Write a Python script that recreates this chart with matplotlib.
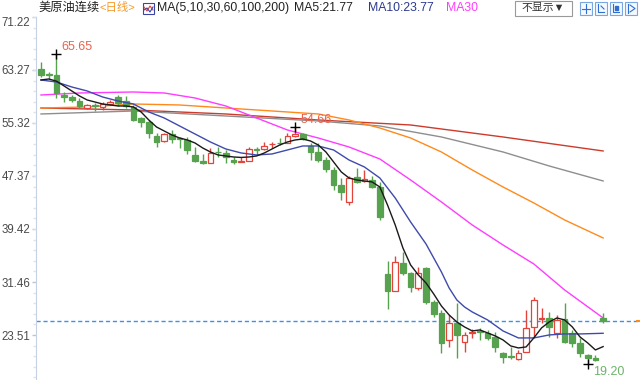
import matplotlib
matplotlib.use('Agg')
import matplotlib.pyplot as plt
from matplotlib.patches import Rectangle
from matplotlib.lines import Line2D
import numpy as np

plt.rcParams['font.family'] = ['Liberation Sans', 'Noto Sans CJK SC', 'DejaVu Sans']

# ---------------- data ----------------
opens = [63.42, 62.55, 62.52, 59.52, 59.22, 58.62, 57.57, 57.90, 57.72, 58.17,
         59.22, 58.62, 57.72, 56.07, 55.47, 53.37, 52.62, 53.67, 52.95, 52.77,
         50.52, 49.62, 49.32, 50.97, 50.82, 49.77, 49.47, 49.62, 51.30, 51.42,
         52.12, 52.32, 52.32, 53.37, 53.67, 51.87, 50.97, 49.77, 48.27, 46.02,
         43.47, 47.22, 46.62, 46.77, 45.72, 32.67, 30.12, 34.32, 32.82, 30.57,
         33.57, 28.47, 26.82, 22.77, 25.32, 22.47, 23.82, 24.00, 23.82, 23.22,
         20.82, 20.25, 19.92, 20.97, 24.72, 25.90, 26.07, 23.82, 25.92, 23.82,
         22.32, 20.52, 20.07, 26.07]
highs = [64.47, 62.97, 65.65, 59.97, 59.52, 59.07, 58.17, 58.32, 58.47, 58.77,
         59.52, 59.37, 58.02, 56.22, 55.77, 53.77, 53.82, 54.27, 53.22, 53.22,
         51.72, 50.67, 51.57, 51.72, 51.27, 50.27, 50.22, 51.77, 51.77, 52.52,
         52.52, 53.00, 53.77, 54.66, 53.77, 52.27, 52.32, 50.22, 48.77, 47.07,
         47.37, 48.57, 48.27, 47.37, 46.47, 34.62, 35.37, 35.97, 32.97, 33.72,
         33.72, 28.80, 27.27, 26.52, 28.32, 23.97, 24.42, 24.57, 24.27, 23.97,
         20.97, 21.72, 21.27, 27.27, 29.22, 27.57, 26.97, 26.52, 28.32, 24.27,
         23.07, 20.67, 20.52, 26.82]
lows = [62.22, 61.92, 59.07, 58.47, 58.47, 57.57, 57.42, 57.12, 57.27, 58.02,
        57.87, 57.57, 55.62, 54.72, 53.07, 51.72, 52.47, 52.32, 51.57, 50.67,
        49.47, 49.22, 49.32, 50.22, 49.32, 49.17, 49.47, 49.62, 50.52, 51.27,
        51.52, 51.97, 52.27, 53.22, 52.77, 49.77, 49.47, 47.97, 45.27, 43.77,
        43.07, 46.32, 46.47, 45.57, 40.77, 27.42, 30.12, 32.52, 29.97, 30.27,
        28.17, 26.20, 20.82, 21.72, 20.07, 20.97, 23.07, 22.77, 22.77, 20.97,
        19.32, 19.92, 19.77, 20.97, 23.22, 25.32, 23.22, 23.07, 22.32, 21.72,
        20.22, 19.20, 19.62, 25.32]
closes = [62.52, 62.50, 59.82, 59.22, 58.77, 57.87, 58.02, 57.85, 58.17, 58.47,
          58.32, 57.87, 55.77, 55.47, 53.82, 52.47, 53.67, 52.92, 52.90, 51.27,
          49.62, 49.32, 50.82, 50.90, 50.22, 49.47, 49.62, 51.42, 51.25, 51.87,
          52.17, 52.27, 53.37, 53.67, 52.92, 50.97, 49.77, 48.42, 46.02, 44.97,
          47.07, 46.47, 46.92, 45.72, 41.22, 30.12, 34.47, 32.82, 30.72, 32.82,
          28.47, 26.67, 22.32, 25.32, 23.52, 23.52, 23.97, 23.95, 23.07, 21.72,
          20.22, 20.20, 20.82, 24.57, 28.77, 25.97, 24.72, 25.77, 22.47, 22.32,
          20.82, 20.07, 19.77, 25.62]

ma5_values = [61.77, 61.92, 61.60, 60.87, 60.12, 59.37, 58.77, 58.47, 58.17, 58.02,
              57.87, 57.87, 57.72, 56.97, 55.77, 54.72, 54.12, 53.52, 53.07, 52.77,
              52.32, 51.57, 50.97, 50.52, 50.37, 50.22, 50.15, 50.22, 50.37, 50.82,
              51.42, 52.02, 52.47, 52.77, 52.92, 52.62, 52.02, 50.97, 49.47, 47.97,
              47.07, 46.77, 46.62, 46.47, 45.72, 43.02, 40.02, 36.57, 34.02, 32.52,
              31.32, 29.67, 27.87, 26.52, 25.47, 24.72, 24.12, 24.27, 23.82, 23.37,
              22.77, 21.87, 21.57, 21.72, 23.07, 24.57, 25.47, 26.07, 25.77, 24.72,
              23.22, 22.32, 21.27, 21.77]

ma10_index = [0, 2, 4, 6, 8, 10, 12, 14, 16, 18, 20, 22, 24, 26, 28, 30, 32, 34, 36, 38,
              40, 42, 44, 45, 46, 47, 48, 49, 50, 51, 52, 53, 54, 55, 56, 57, 58, 60,
              62, 64, 66, 68, 70, 73]
ma10_values = [61.77, 61.47, 60.72, 60.12, 59.22, 58.62, 58.17, 56.97, 56.07, 54.87,
               53.67, 52.47, 51.42, 50.82, 50.52, 50.67, 51.27, 51.87, 51.87, 51.27,
               49.77, 48.72, 47.07, 45.57, 44.07, 42.27, 40.47, 38.82, 37.17, 35.07,
               32.97, 30.57, 28.77, 27.72, 26.97, 26.37, 25.77, 24.12,
               23.07, 23.07, 23.52, 23.67, 23.67, 23.77]

ma30_index = [0, 5, 12, 16, 20, 24, 28, 32, 36, 40, 44, 48, 52, 56, 60, 64, 68, 73]
ma30_values = [59.52, 59.82, 59.97, 59.82, 59.07, 57.87, 56.07, 54.27, 53.07, 51.72,
               49.92, 46.77, 43.47, 40.02, 37.02, 34.17, 30.27, 26.07]

ma60_index = [0, 6, 12, 18, 24, 30, 36, 40, 44, 48, 52, 56, 60, 64, 68, 73]
ma60_values = [57.57, 57.72, 58.17, 58.02, 57.57, 57.12, 56.67, 55.77, 54.57, 53.07,
               50.97, 48.27, 45.72, 43.32, 40.77, 38.07]

ma100_index = [0, 12, 24, 36, 44, 52, 60, 66, 73]
ma100_values = [56.67, 57.12, 56.37, 55.62, 54.87, 53.22, 50.97, 48.87, 46.62]

ma200_index = [0, 12, 24, 36, 48, 60, 73]
ma200_values = [57.57, 57.27, 56.67, 55.77, 55.02, 53.22, 51.12]

ytick_values = [23.51, 31.46, 39.42, 47.37, 55.32, 63.27, 71.22]
ytick_labels = ['23.51', '31.46', '39.42', '47.37', '55.32', '63.27', '71.22']

title_name = '美原油连续'
title_period = '<日线>'
ma_params = 'MA(5,10,30,60,100,200)'
ma5_label = 'MA5:21.77'
ma10_label = 'MA10:23.77'
ma30_label = 'MA30'

# ---------------- figure ----------------
W, H = 640, 380
fig = plt.figure(figsize=(6.4, 3.8), dpi=100)
ax = fig.add_axes([36 / W, 0, 604 / W, 363 / H])
ax.set_xlim(-0.649, 77.79)
ax.set_ylim(16.76, 71.22)

GREEN = '#57a24e'
RED = '#e2433a'
n = len(closes)
xs = np.arange(n)
o = np.array(opens); c = np.array(closes); hi = np.array(highs); lo = np.array(lows)
up = c > o
cols = [RED if u else GREEN for u in up]
faces = ['white' if u else GREEN for u in up]
ax.vlines(xs, lo, hi, colors=cols, lw=1.0, zorder=3)
bottoms = np.minimum(o, c)
heights = np.maximum(np.abs(c - o), 0.12)
ax.bar(xs, heights, bottom=bottoms, width=0.74, color=faces, edgecolor=cols,
       linewidth=0.9, zorder=4)

# moving averages
ax.plot(ma200_index, ma200_values, color='#cc3b2c', lw=1.0, zorder=2)
ax.plot(ma100_index, ma100_values, color='#8e8e8e', lw=1.0, zorder=2)
ax.plot(ma60_index, ma60_values, color='#ff8a1c', lw=1.0, zorder=2)
ax.plot(ma30_index, ma30_values, color='#ff3cff', lw=1.0, zorder=2)
ax.plot(ma10_index, ma10_values, color='#3f4aab', lw=1.0, zorder=5)
ax.plot(xs, ma5_values, color='#1a1a1a', lw=1.0, zorder=6)

# last price line
ax.axhline(closes[-1], color='#3b92ec', lw=1.0, ls=(0, (3, 2)), zorder=1)
ax.plot([1.0], [closes[-1]], transform=ax.get_yaxis_transform(), marker='_',
        color='#ff8c1a', ms=6, mew=1.5, clip_on=False)

# high / low markers
imax = int(np.argmax(hi[:10]))
imid = 33
imin = int(np.argmin(lo))
for i, val, col, dy in [(imax, highs[imax], '#e8634f', 7), (imid, highs[imid], '#e8634f', 7),
                        (imin, lows[imin], '#6db36b', -8)]:
    ax.plot([i], [val], marker='+', color='black', ms=7, mew=1.0, zorder=7)
    ax.annotate(f'{val:.2f}', (i, val), xytext=(5, dy), textcoords='offset pixels',
                ha='left', va='center', fontsize=9, color=col, zorder=8)

# axes styling
for s in ['top', 'right', 'bottom']:
    ax.spines[s].set_visible(False)
ax.spines['left'].set_color('#c6d2e4')
ax.set_xticks([])
ax.set_yticks(ytick_values)
ax.set_yticklabels(ytick_labels)
minor = [ytick_values[0] + k * (ytick_values[1] - ytick_values[0]) / 5 for k in range(-4, 31)]
ax.set_yticks(minor, minor=True)
ax.tick_params(axis='y', which='major', length=3, width=1, color='#b9c6d8',
               labelsize=8.3, labelcolor='#4a4a4a', pad=1)
ax.tick_params(axis='y', which='minor', length=2, width=1, color='#dde4ee')
# top label sits just below the top edge
ax.get_yticklabels()[-1].set_verticalalignment('top')

# ---------------- header ----------------
def fx(px):
    return px / W

def fy(py):
    return 1 - py / H

FS = 8.8
ty = fy(8)
t_name = fig.text(fx(38), ty, title_name, fontsize=FS, color='#222222', va='center', ha='left')
fig.canvas.draw()
bb = t_name.get_window_extent()
fig.text(bb.x1 / W + 0.5 / W, ty, title_period, fontsize=FS - 0.6, color='#f39a2c',
         va='center', ha='left')
# small chart icon
fig.patches.append(Rectangle((fx(143), fy(14)), 11 / W, 11 / H, transform=fig.transFigure,
                             fill=True, facecolor='white', edgecolor='#3b45a5', lw=0.8))
fig.lines.append(Line2D([fx(144), fx(147), fx(150), fx(153)], [fy(7), fy(11), fy(6), fy(10)],
                        transform=fig.transFigure, color='#e2433a', lw=0.8))
fig.lines.append(Line2D([fx(144), fx(147), fx(150), fx(153)], [fy(10), fy(8), fy(12), fy(7)],
                        transform=fig.transFigure, color='#3b45a5', lw=0.8))
fig.text(fx(157), ty, ma_params, fontsize=FS, color='#222222', va='center', ha='left')
fig.text(fx(294), ty, ma5_label, fontsize=FS, color='#222222', va='center', ha='left')
fig.text(fx(368), ty, ma10_label, fontsize=FS, color='#2b3a8f', va='center', ha='left')
fig.text(fx(446), ty, ma30_label, fontsize=FS, color='#ff3cff', va='center', ha='left')

# right buttons
fig.patches.append(Rectangle((fx(515), fy(16)), 57 / W, 15 / H, transform=fig.transFigure,
                             fill=True, facecolor='white', edgecolor='#9a9a9a', lw=0.8))
fig.text(fx(543), fy(8.5), '不显示▼', fontsize=7.8, color='#333333', va='center', ha='center')
for bx in [580, 595, 610, 625]:
    fig.patches.append(Rectangle((fx(bx), fy(15)), 12 / W, 13 / H, transform=fig.transFigure,
                                 fill=True, facecolor='#f4f8ff', edgecolor='#7aa7e0', lw=0.8))
b = 580
fig.lines.append(Line2D([fx(b + 6), fx(b + 6)], [fy(4), fy(13)], transform=fig.transFigure, color='#2f6fd0', lw=0.8))
fig.lines.append(Line2D([fx(b + 2), fx(b + 10)], [fy(8.5), fy(8.5)], transform=fig.transFigure, color='#2f6fd0', lw=0.8))
b = 595
fig.lines.append(Line2D([fx(b + 3), fx(b + 3), fx(b + 9)], [fy(4), fy(12), fy(12)], transform=fig.transFigure, color='#2f6fd0', lw=0.8))
fig.lines.append(Line2D([fx(b + 6), fx(b + 9)], [fy(6), fy(9)], transform=fig.transFigure, color='#2f6fd0', lw=0.8))
b = 610
fig.lines.append(Line2D([fx(b + 3), fx(b + 3), fx(b + 9)], [fy(4), fy(12), fy(12)], transform=fig.transFigure, color='#2f6fd0', lw=0.8))
fig.patches.append(Rectangle((fx(b + 5), fy(10)), 3 / W, 4 / H, transform=fig.transFigure, color='#2f6fd0'))
b = 625
fig.lines.append(Line2D([fx(b + 3), fx(b + 3)], [fy(4), fy(13)], transform=fig.transFigure, color='#2f6fd0', lw=0.8))
fig.lines.append(Line2D([fx(b + 5), fx(b + 10), fx(b + 5)], [fy(5), fy(8.5), fy(12)], transform=fig.transFigure, color='#2f6fd0', lw=0.8))

fig.savefig('out.png', dpi=100)
